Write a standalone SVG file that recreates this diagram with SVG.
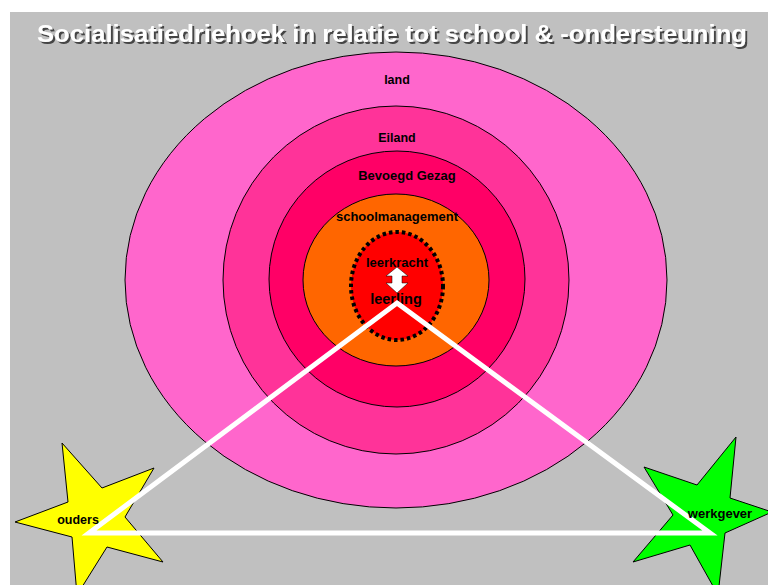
<svg xmlns="http://www.w3.org/2000/svg" width="768" height="585" viewBox="0 0 768 585">
<style>
.ring{stroke:#000;stroke-width:1}
.lbl{font-family:"Liberation Sans",Arial,sans-serif;font-weight:bold;text-anchor:middle;fill:#000}
.star{stroke:#000;stroke-width:1}
.tri{fill:none;stroke:#fff;stroke-width:5;stroke-linejoin:miter}
.title{font-family:"Liberation Sans",Arial,sans-serif;font-weight:bold;font-size:24px;text-anchor:middle}
</style>
<defs>
<filter id="shadow" x="-5%" y="-30%" width="110%" height="160%">
<feDropShadow dx="2" dy="2" stdDeviation="0.6" flood-color="#444" flood-opacity="1"/>
</filter>
</defs>
<rect x="0" y="0" width="768" height="585" fill="#fff"/>
<rect x="10" y="12" width="758" height="573" fill="#C0C0C0"/>
<g id="title">
<text class="title" x="392" y="42" fill="#fff" filter="url(#shadow)" textLength="710" lengthAdjust="spacingAndGlyphs">Socialisatiedriehoek in relatie tot school &amp; -ondersteuning</text>
</g>
<g id="land">
<ellipse class="ring" cx="396" cy="280" rx="271" ry="228" fill="#FF66CC"/>
<text class="lbl" x="397" y="84" font-size="12.5">land</text>
</g>
<g id="eiland">
<ellipse class="ring" cx="396" cy="280" rx="173" ry="174" fill="#FF3399"/>
<text class="lbl" x="397" y="142" font-size="12.5">Eiland</text>
</g>
<g id="bevoegd-gezag">
<ellipse class="ring" cx="397" cy="279" rx="128" ry="128" fill="#FF0066"/>
<text class="lbl" x="407" y="180" font-size="13">Bevoegd Gezag</text>
</g>
<g id="schoolmanagement">
<ellipse class="ring" cx="396" cy="280" rx="93" ry="86" fill="#FF6600"/>
<text class="lbl" x="397" y="221" font-size="13">schoolmanagement</text>
</g>
<g id="leerkracht-leerling">
<ellipse cx="397" cy="286" rx="46" ry="54" fill="#FF0000" stroke="#000" stroke-width="4" stroke-dasharray="3.5 3"/>
<text class="lbl" x="397" y="267" font-size="13">leerkracht</text>
<text class="lbl" x="396" y="304" font-size="14.5">leerling</text>
<path d="M397 267 L408 276 L402 276 L402 283 L408 283 L397 293 L386 283 L392 283 L392 276 L386 276 Z" fill="#fff" stroke="#000" stroke-width="0.5"/>
</g>
<g id="ouders">
<polygon class="star" fill="#FFFF00" points="62,443 102,488 154,468 125,517 163,562 107,547 77,595 72,537 15,522 68,502"/>
</g>
<g id="werkgever">
<polygon class="star" fill="#00FF00" points="736,437 730,498 772,512 725,533 718,595 690,545 633,562 673,515 644,467 697,485"/>
</g>
<g id="connectors">
<polygon class="tri" points="397,303 710,533 89,533"/>
</g>
<text class="lbl" x="78" y="524" font-size="12.5">ouders</text>
<text class="lbl" x="720" y="518" font-size="13">werkgever</text>
</svg>
